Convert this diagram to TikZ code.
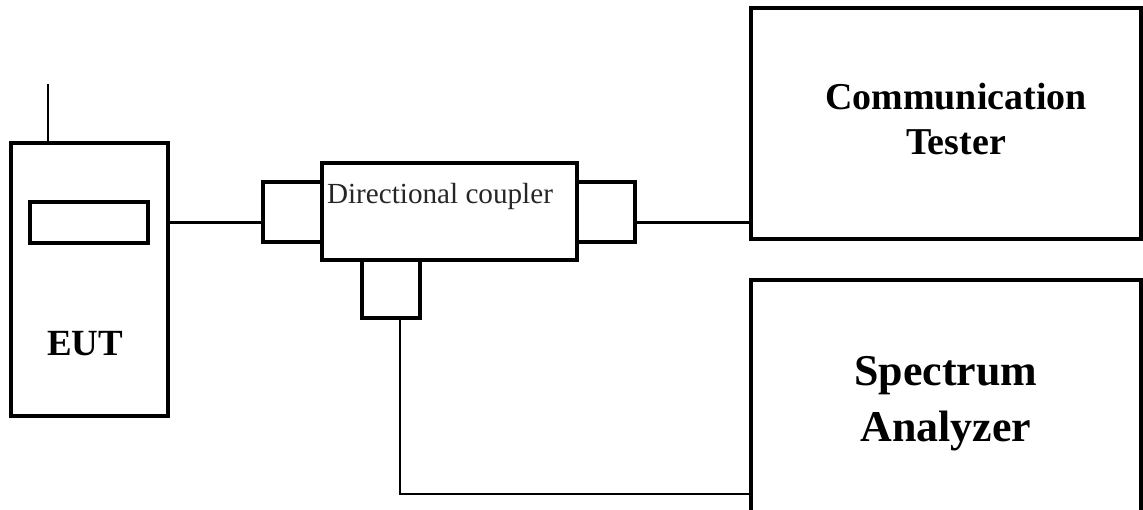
\documentclass[tikz,border=0pt]{standalone}
\usepackage{fontspec}
\setmainfont{Liberation Serif}

\tikzset{
    unit/.style={draw, line width=1.9pt, inner sep=0pt, outer sep=0pt},
    wire/.style={line width=1.5pt},
}

\begin{document}
\begin{tikzpicture}[x=0.02cm,y=-0.02cm]
                \useasboundingbox (0,0) rectangle (1143,510);
                \clip (0,0) rectangle (1143,510);
                % EUT with antenna and display
                \node[unit, minimum width=3.14cm, minimum height=5.46cm] (eut) at (89.5,279.5) {};
                \node[unit, minimum width=2.36cm, minimum height=0.82cm] (disp) at (89,222.5) {};
                \node[font=\fontsize{21pt}{25pt}\selectfont\bfseries, anchor=base] (eutlabel) at (85,355) {EUT};
                \coordinate (ant) at (48,84);
                \draw[wire] (ant) -- (ant |- eut.north);
                % directional coupler with its ports
                \node[unit, minimum width=1.18cm, minimum height=1.2cm] (lport) at (292.5,212) {};
                \node[unit, minimum width=1.16cm, minimum height=1.2cm] (rport) at (606,212) {};
                \node[unit, minimum width=1.16cm, minimum height=1.16cm] (bport) at (391,289) {};
                \node[unit, minimum width=5.1cm, minimum height=1.94cm] (coupler) at (449.5,211.5) {};
                \node[font=\fontsize{16.6pt}{19pt}\selectfont, text=black!85, anchor=base] (couplerlabel) at (440,203) {Directional coupler};
                \foreach \n in {disp,lport,rport}
                    \draw[line width=2.8pt] (\n.south west) -- (\n.south east);
                % instruments
                \node[unit, minimum width=7.8cm, minimum height=4.62cm] (ct) at (946,123.5) {};
                \node[font=\fontsize{21.6pt}{25.6pt}\selectfont\bfseries, align=center] (ctlabel) at (956,119) {Communication\\Tester};
                \node[unit, minimum width=7.8cm, minimum height=4.68cm] (sa) at (946,397) {};
                \node[font=\fontsize{25pt}{31.9pt}\selectfont\bfseries, align=center] (salabel) at (946,404) {Spectrum\\Analyzer};
                % cables
                \draw[wire] (eut.east |- disp) -- (lport.west |- disp);
                \draw[wire] (rport.east |- disp) -- (ct.west |- disp);
                \coordinate (tap) at (400,494);
                \draw[wire] (bport.south -| tap) -- (tap) -- (sa.west |- tap);
            \end{tikzpicture}
\end{document}
